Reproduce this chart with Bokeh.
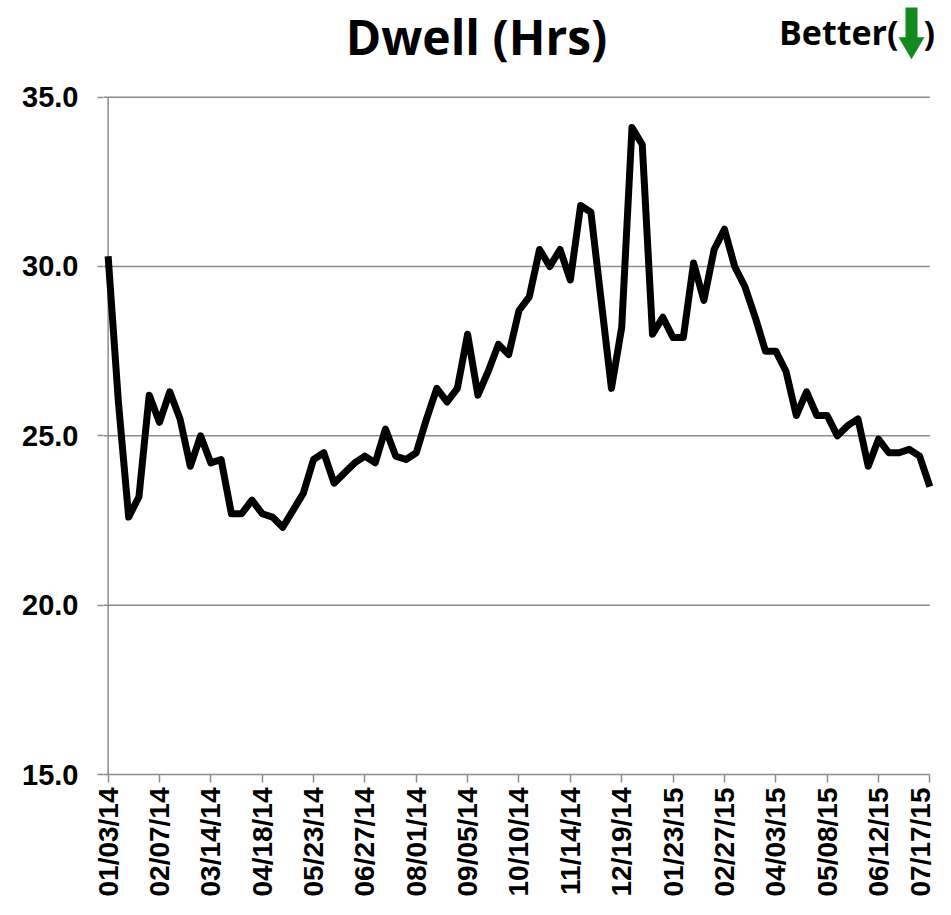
import math
from bokeh.plotting import figure
from bokeh.models import FixedTicker, Label, Range1d
from bokeh.embed import file_html
from bokeh.resources import INLINE

# Weekly dwell (hours), week ending 01/03/14 ... 07/17/15
dwell = [30.3, 26.0, 22.6, 23.2, 26.2, 25.4, 26.3, 25.5, 24.1, 25.0,
         24.2, 24.3, 22.7, 22.7, 23.1, 22.7, 22.6, 22.3, 22.8, 23.3,
         24.3, 24.5, 23.6, 23.9, 24.2, 24.4, 24.2, 25.2, 24.4, 24.3,
         24.5, 25.5, 26.4, 26.0, 26.4, 28.0, 26.2, 26.9, 27.7, 27.4,
         28.7, 29.1, 30.5, 30.0, 30.5, 29.6, 31.8, 31.6, 29.0, 26.4,
         28.2, 34.1, 33.6, 28.0, 28.5, 27.9, 27.9, 30.1, 29.0, 30.5,
         31.1, 30.0, 29.4, 28.5, 27.5, 27.5, 26.9, 25.6, 26.3, 25.6,
         25.6, 25.0, 25.3, 25.5, 24.1, 24.9, 24.5, 24.5, 24.6, 24.4,
         23.5]

tick_labels = ["01/03/14", "02/07/14", "03/14/14", "04/18/14", "05/23/14",
               "06/27/14", "08/01/14", "09/05/14", "10/10/14", "11/14/14",
               "12/19/14", "01/23/15", "02/27/15", "04/03/15", "05/08/15",
               "06/12/15", "07/17/15"]
tick_step = 5
y_ticks = [15.0, 20.0, 25.0, 30.0, 35.0]

weeks = list(range(len(dwell)))
tick_pos = [i * tick_step for i in range(len(tick_labels))]
first, last = weeks[0], weeks[-1]

# ---- layout (pixels) ----
W, H = 935, 899
BORDER_L, BORDER_B = 103, 122
FRAME_W, FRAME_H = W - BORDER_L, H - BORDER_B
X_PAD_L = 0.45
PX_PER_WEEK = FRAME_W / (last + 1.0)
X_PAD_R = 1.0 - X_PAD_L
PX_PER_UNIT = 34.0
Y_MIN = y_ticks[0]
Y_TOP = Y_MIN + FRAME_H / PX_PER_UNIT
X0_PX = BORDER_L + X_PAD_L * PX_PER_WEEK


def px_x(px):
    return (px - X0_PX) / PX_PER_WEEK


def px_y(py):
    return Y_TOP - py / PX_PER_UNIT


GRID = "#8c8c8c"
GREEN = "#138a1e"

p = figure(width=W, height=H, output_backend="svg", toolbar_location=None,
           x_range=Range1d(first - X_PAD_L, last + X_PAD_R),
           y_range=Range1d(Y_MIN, Y_TOP),
           min_border_left=BORDER_L, min_border_right=0, min_border_top=0,
           min_border_bottom=BORDER_B)
p.outline_line_color = None
p.background_fill_color = "white"
p.xgrid.grid_line_color = None
p.ygrid.grid_line_color = None

# horizontal gridlines (from the frame edge to the last week)
gl = y_ticks[1:]
p.segment(x0=[first - X_PAD_L] * len(gl), x1=[last] * len(gl), y0=gl, y1=gl,
          line_color=GRID, line_width=1.5)
# vertical value-axis line at the first week
p.segment(x0=[first], x1=[first], y0=[y_ticks[0]], y1=[y_ticks[-1]],
          line_color=GRID, line_width=1.5)

p.line(weeks, dwell, line_color="black", line_width=7, line_join="round")

# x axis
xa = p.xaxis[0]
xa.ticker = FixedTicker(ticks=tick_pos)
xa.bounds = (first - X_PAD_L, last)
xa.major_label_overrides = {pos: lab for pos, lab in zip(tick_pos, tick_labels)}
xa.major_label_orientation = math.pi / 2
xa.minor_tick_line_color = None
xa.major_tick_in = 0
xa.major_tick_out = 8
xa.major_label_standoff = 5
xa.axis_line_color = GRID
xa.axis_line_width = 1.5
xa.major_tick_line_color = GRID
xa.major_tick_line_width = 1.5
xa.major_label_text_font = "Liberation Sans"
xa.major_label_text_font_style = "bold"
xa.major_label_text_font_size = "28px"
xa.major_label_text_color = "black"

# y axis (line drawn above as a segment)
ya = p.yaxis[0]
ya.ticker = FixedTicker(ticks=y_ticks)
ya.major_label_overrides = {v: f"{v:.1f}" for v in y_ticks}
ya.minor_tick_line_color = None
ya.major_tick_in = 0
ya.major_tick_out = 6
ya.major_label_standoff = 19
ya.axis_line_color = None
ya.major_tick_line_color = GRID
ya.major_tick_line_width = 1.5
ya.major_label_text_font = "Liberation Sans"
ya.major_label_text_font_style = "bold"
ya.major_label_text_font_size = "29px"
ya.major_label_text_color = "black"

# titles
p.add_layout(Label(x=px_x(476), y=px_y(36), text="Dwell (Hrs)",
                   text_align="center", text_baseline="alphabetic",
                   text_font="Open Sans", text_font_style="bold",
                   text_font_size="48px", text_color="black"))
p.add_layout(Label(x=px_x(898), y=px_y(32), text="Better(",
                   text_align="right", text_baseline="alphabetic",
                   text_font="Open Sans", text_font_style="bold",
                   text_font_size="34px", text_color="black"))
p.add_layout(Label(x=px_x(923), y=px_y(32), text=")",
                   text_align="left", text_baseline="alphabetic",
                   text_font="Open Sans", text_font_style="bold",
                   text_font_size="34px", text_color="black"))
# green "better" arrow
p.quad(left=[px_x(905)], right=[px_x(917)], top=[px_y(7)], bottom=[px_y(40)],
       fill_color=GREEN, line_color=None)
p.patch(x=[px_x(898), px_x(924), px_x(911)], y=[px_y(37), px_y(37), px_y(59)],
        fill_color=GREEN, line_color=None)

open("out.html", "w").write(file_html(p, INLINE))
